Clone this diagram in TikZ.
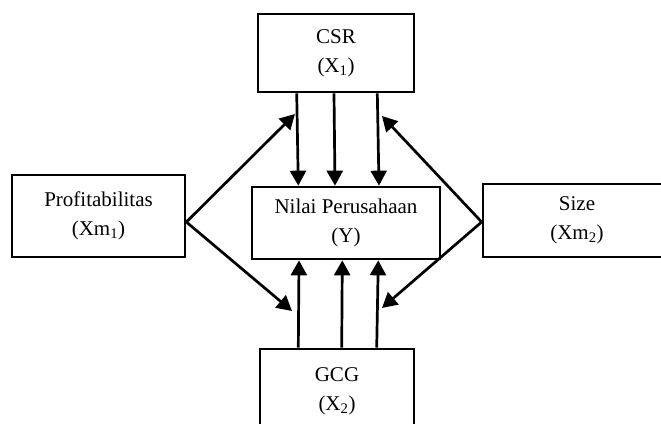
\documentclass[tikz,border=0pt]{standalone}
\usepackage{fontspec}
\setmainfont{Liberation Serif}
\usetikzlibrary{arrows.meta}
\begin{document}
\begin{tikzpicture}[x=1pt,y=-1pt,
  box/.style={draw,line width=2.7pt,inner sep=0pt,align=center,
    font=\fontsize{21}{29}\selectfont},
  arr/.style={line width=2.7pt,-{Triangle[length=15pt,width=16pt]}}]
\useasboundingbox (0,0) rectangle (661,423);
\clip (0,0) rectangle (661,423);
\node[box,minimum width=156pt,minimum height=78pt] (csr) at (336,53) {CSR\\(X\textsubscript{1})};
\node[box,minimum width=173pt,minimum height=82pt] (prof) at (98.5,216) {Profitabilitas\\(Xm\textsubscript{1})};
\node[box,minimum width=188pt,minimum height=73pt] (size) at (577,220.5) {Size\\(Xm\textsubscript{2})};
\node[box,minimum width=188pt,minimum height=72pt] (y) at (346,223) {Nilai Perusahaan\\(Y)};
\node[box,minimum width=154pt,minimum height=84pt] (gcg) at (337,391) {GCG\\(X\textsubscript{2})};
% CSR -> Y
\draw[arr] ([xshift=-39.3pt]csr.south) -- ([xshift=-47.7pt]y.north);
\draw[arr] ([xshift=-2pt]csr.south) -- ([xshift=-11pt]y.north);
\draw[arr] ([xshift=41.3pt]csr.south) -- ([xshift=33pt]y.north);
% GCG -> Y
\draw[arr] ([xshift=-38.7pt]gcg.north) -- ([xshift=-47pt]y.south);
\draw[arr] ([xshift=4.7pt]gcg.north) -- ([xshift=-3.7pt]y.south);
\draw[arr] ([xshift=39.7pt]gcg.north) -- ([xshift=32.3pt]y.south);
% diagonal arrows
\coordinate (t1) at (295,114);
\coordinate (t2) at (292,311);
\coordinate (t3) at (382,116);
\coordinate (t4) at (382,308);
\draw[arr] ([yshift=-6pt]prof.east) -- (t1);
\draw[arr] ([yshift=-6pt]prof.east) -- (t2);
\draw[arr] ([yshift=-1.5pt]size.west) -- (t3);
\draw[arr] ([yshift=-1.5pt]size.west) -- (t4);
\end{tikzpicture}
\end{document}
